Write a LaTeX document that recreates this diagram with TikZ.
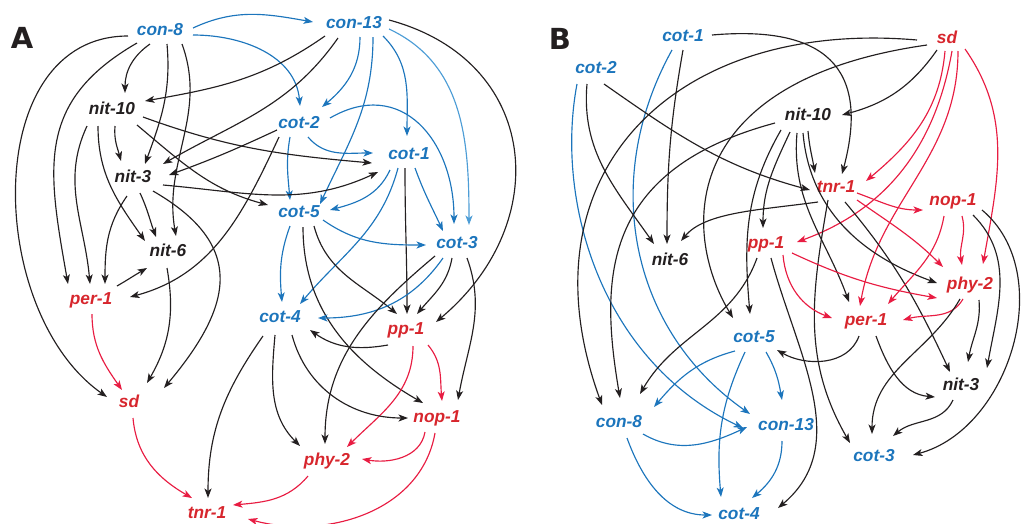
\documentclass[tikz,border=0pt]{standalone}
\usepackage{fontspec}
\setmainfont{Liberation Sans}
\newfontfamily\heavyfont{DejaVu Sans}
\usetikzlibrary{arrows.meta,calc}
\definecolor{nblue}{RGB}{28,117,188}
\definecolor{lblue}{RGB}{77,157,214}
\definecolor{nred}{RGB}{215,38,45}
\definecolor{ered}{RGB}{232,28,66}
\definecolor{nblack}{RGB}{35,31,32}
\begin{document}
\begin{tikzpicture}[x=1pt,y=1pt,
  lab/.style={font=\fontsize{17.3}{20}\selectfont\bfseries\itshape, inner sep=2pt, text height=12.5pt, text depth=3.5pt},
  nb/.style={lab,text=nblue}, nr/.style={lab,text=nred}, nk/.style={lab,text=nblack},
  e/.style={-{Stealth[length=9.5pt,width=7pt,inset=2.5pt]}, line width=1.15pt},
  ek/.style={e,draw=nblack}, eb/.style={e,draw=nblue}, er/.style={e,draw=ered}, elb/.style={e,draw=lblue},
  panel/.style={font=\heavyfont\fontsize{29}{30}\selectfont\bfseries, text=nblack, inner sep=0pt}]
\useasboundingbox (0,0) rectangle (1027,-523);
\node[panel] (labA) at (22,-38) {A};
\node[panel] (labB) at (560,-39) {B};
% ---------- panel A nodes
\node[nb] (a-c8) at (160,-31) {con-8};
\node[nb] (a-c13) at (354,-24) {con-13};
\node[nk] (a-n10) at (112,-110) {nit-10};
\node[nb] (a-t2) at (299,-124) {cot-2};
\node[nb] (a-t1) at (409,-155) {cot-1};
\node[nk] (a-n3) at (133,-178) {nit-3};
\node[nb] (a-t5) at (299,-213) {cot-5};
\node[nb] (a-t3) at (457,-244) {cot-3};
\node[nk] (a-n6) at (168,-252) {nit-6};
\node[nr] (a-p1) at (91,-300) {per-1};
\node[nb] (a-t4) at (280,-318) {cot-4};
\node[nr] (a-pp) at (406,-330) {pp-1};
\node[nr] (a-sd) at (129,-403) {sd};
\node[nr] (a-nop) at (437,-418) {nop-1};
\node[nr] (a-phy) at (327,-461) {phy-2};
\node[nr] (a-tnr) at (207,-514) {tnr-1};
% ---------- panel A edges
\draw[eb] ($(a-c8)+(33,3)$) to[out=25,in=170] ($(a-c13)+(-41,2)$);
\draw[eb] ($(a-c8)+(33,-4)$) to[out=0,in=95] ($(a-t2)+(1,18)$);
\draw[eb] ($(a-c13)+(6,-13)$) to[out=-90,in=40] ($(a-t2)+(23,17)$);
\draw[eb] ($(a-c13)+(19,-13)$) to[out=-90,in=65] ($(a-t5)+(21,9)$);
\draw[eb] ($(a-c13)+(29,-12)$) to[out=-45,in=90] ($(a-t1)+(-2,19)$);
\draw[elb] ($(a-c13)+(35,-5)$) to[out=-25,in=90] ($(a-t3)+(12,19)$);
\draw[ek] ($(a-c13)+(35,4)$) to[out=-15,in=40,looseness=1.3] ($(a-pp)+(30,8)$);
\draw[eb] ($(a-t2)+(9,-13)$) to[out=-50,in=180] ($(a-t1)+(-36,2)$);
\draw[eb] ($(a-t2)+(31,6)$) to[out=30,in=90,looseness=1.3] ($(a-t3)+(-3,20)$);
\draw[eb] ($(a-t2)+(-9,-13)$) to[out=-100,in=95] ($(a-t5)+(-9,13)$);
\draw[eb] ($(a-t1)+(-19,-15)$) to[out=-115,in=15] ($(a-t5)+(31,3)$);
\draw[eb] ($(a-t1)+(6,-13)$) to[out=-70,in=115] ($(a-t3)+(-14,13)$);
\draw[eb] ($(a-t1)+(-11,-13)$) to[out=-105,in=50] ($(a-t4)+(20,14)$);
\draw[ek] ($(a-t1)+(-4,-13)$) to[out=-90,in=90] ($(a-pp)+(1,16)$);
\draw[eb] ($(a-t5)+(24,-7)$) to[out=-35,in=180] ($(a-t3)+(-31,-1)$);
\draw[eb] ($(a-t5)+(-9,-13)$) to[out=-110,in=95] ($(a-t4)+(2,16)$);
\draw[ek] ($(a-t5)+(15,-13)$) to[out=-75,in=140] ($(a-pp)+(-9,16)$);
\draw[ek] ($(a-t5)+(4,-14)$) to[out=-90,in=150] ($(a-nop)+(-14,15)$);
\draw[eb] ($(a-t3)+(-14,-14)$) to[out=-125,in=0] ($(a-t4)+(38,0)$);
\draw[ek] ($(a-t3)+(-5,-14)$) to[out=-100,in=50] ($(a-pp)+(11,16)$);
\draw[ek] ($(a-t3)+(10,-14)$) to[out=-70,in=80] ($(a-nop)+(21,18)$);
\draw[ek] ($(a-t3)+(-22,-12)$) to[out=-140,in=90] ($(a-phy)+(-2,17)$);
\draw[ek] ($(a-pp)+(-18,-15)$) to[out=-170,in=-35] ($(a-t4)+(30,-12)$);
\draw[er] ($(a-pp)+(22,-15)$) to[out=-50,in=95] ($(a-nop)+(5,17)$);
\draw[er] ($(a-pp)+(7,-16)$) to[out=-90,in=45] ($(a-phy)+(20,14)$);
\draw[ek] ($(a-t4)+(-5,-17)$) to[out=-95,in=135] ($(a-phy)+(-27,15)$);
\draw[ek] ($(a-t4)+(12,-17)$) to[out=-75,in=180] ($(a-nop)+(-29,0)$);
\draw[ek] ($(a-t4)+(-17,-18)$) to[out=-125,in=90] ($(a-tnr)+(1,16)$);
\draw[er] ($(a-nop)+(-12,-14)$) to[out=-100,in=-10] ($(a-phy)+(35,2)$);
\draw[er] ($(a-nop)+(-2,-15)$) to[out=-100,in=-15] ($(a-tnr)+(41,-5)$);
\draw[er] ($(a-phy)+(-19,-15)$) to[out=-130,in=5] ($(a-tnr)+(26,9)$);
\draw[er] ($(a-sd)+(4,-15)$) to[out=-85,in=150] ($(a-tnr)+(-15,16)$);
\draw[er] ($(a-p1)+(1,-14)$) to[out=-90,in=125] ($(a-sd)+(-7,13)$);
\draw[ek] ($(a-n6)+(-1,-16)$) to[out=-80,in=60] ($(a-sd)+(18,20)$);
\draw[ek] ($(a-n3)+(20,-13)$) to[out=-30,in=50,looseness=1.4] ($(a-sd)+(35,15)$);
\draw[ek] ($(a-c8)+(-32,-5)$) to[out=180,in=145,looseness=1.05] ($(a-sd)+(-22,6)$);
\draw[ek] ($(a-c8)+(-23,-12)$) to[out=-150,in=100,looseness=1.2] ($(a-p1)+(-23,16)$);
\draw[ek] ($(a-c8)+(-10,-13)$) to[out=-145,in=90] ($(a-n10)+(13,17)$);
\draw[ek] ($(a-c8)+(7,-13)$) to[out=-85,in=70] ($(a-n3)+(12,14)$);
\draw[ek] ($(a-c8)+(22,-13)$) to[out=-70,in=100] ($(a-n6)+(8,16)$);
\draw[ek] ($(a-c13)+(-29,-12)$) to[out=-145,in=10] ($(a-n10)+(33,9)$);
\draw[ek] ($(a-c13)+(-16,-14)$) to[out=-125,in=30] ($(a-n3)+(30,14)$);
\draw[ek] ($(a-t2)+(-22,-6)$) to[out=-155,in=20] ($(a-n3)+(36,3)$);
\draw[ek] ($(a-t2)+(-20,-13)$) to[out=-115,in=15] ($(a-p1)+(39,3)$);
\draw[ek] ($(a-n10)+(3,-16)$) to[out=-95,in=105] ($(a-n3)+(-12,17)$);
\draw[ek] ($(a-n10)+(-14,-16)$) to[out=-90,in=125] ($(a-n6)+(-23,11)$);
\draw[ek] ($(a-n10)+(-25,-16)$) to[out=-115,in=95] ($(a-p1)+(-1,16)$);
\draw[ek] ($(a-n10)+(31,-7)$) to[out=-20,in=175] ($(a-t1)+(-37,-8)$);
\draw[ek] ($(a-n10)+(25,-15)$) to[out=-40,in=165] ($(a-t5)+(-31,8)$);
\draw[ek] ($(a-n3)+(30,-7)$) to[out=-5,in=-155] ($(a-t1)+(-31,-17)$);
\draw[ek] ($(a-n3)+(7,-15)$) to[out=-65,in=110] ($(a-n6)+(-12,15)$);
\draw[ek] ($(a-n3)+(-6,-18)$) to[out=-125,in=90] ($(a-p1)+(14,16)$);
\draw[ek] ($(a-p1)+(26,14)$) to[out=30,in=-150] ($(a-n6)+(-21,-16)$);
% ---------- panel B nodes
\node[nb] (b-t1) at (683,-37) {cot-1};
\node[nb] (b-t2) at (596,-69) {cot-2};
\node[nr] (b-sd) at (947,-39) {sd};
\node[nk] (b-n10) at (808,-116) {nit-10};
\node[nr] (b-tnr) at (836,-188) {tnr-1};
\node[nr] (b-nop) at (953,-201) {nop-1};
\node[nr] (b-pp) at (766,-244) {pp-1};
\node[nk] (b-n6) at (670,-261) {nit-6};
\node[nr] (b-phy) at (970,-285) {phy-2};
\node[nr] (b-p1) at (866,-321) {per-1};
\node[nb] (b-t5) at (754,-338) {cot-5};
\node[nk] (b-n3) at (961,-386) {nit-3};
\node[nb] (b-c8) at (619,-423) {con-8};
\node[nb] (b-c13) at (786,-426) {con-13};
\node[nb] (b-t3) at (874,-457) {cot-3};
\node[nb] (b-t4) at (739,-515) {cot-4};
% ---------- panel B edges
\draw[ek] ($(b-t1)+(29,2)$) to[out=5,in=75,looseness=1.5] ($(b-tnr)+(6,14)$);
\draw[ek] ($(b-t1)+(0,-13)$) to[out=-100,in=90] ($(b-n6)+(-3,17)$);
\draw[eb] ($(b-t1)+(-11,-13)$) .. controls (600,-180) and (630,-330) .. ($(b-c13)+(-36,12)$);
\draw[ek] ($(b-t2)+(8,-15)$) to[out=-35,in=165] ($(b-tnr)+(-26,-2)$);
\draw[ek] ($(b-t2)+(-9,-15)$) to[out=-95,in=125] ($(b-n6)+(-16,17)$);
\draw[eb] ($(b-t2)+(-19,-15)$) .. controls (555,-200) and (600,-360) .. ($(b-c13)+(-43,-2)$);
\draw[ek] ($(b-sd)+(-10,-11)$) to[out=-125,in=15] ($(b-n10)+(34,1)$);
\draw[ek] ($(b-sd)+(-30,-1)$) to[out=175,in=110,looseness=1.3] ($(b-c8)+(-17,18)$);
\draw[ek] ($(b-sd)+(-20,-6)$) .. controls (680,-80) and (680,-230) .. ($(b-t5)+(-21,20)$);
\draw[er] ($(b-sd)+(-2,-12)$) to[out=-95,in=40] ($(b-tnr)+(30,7)$);
\draw[er] ($(b-sd)+(5,-12)$) to[out=-100,in=20] ($(b-pp)+(31,2)$);
\draw[er] ($(b-sd)+(11,-12)$) to[out=-90,in=80] ($(b-p1)+(-6,15)$);
\draw[er] ($(b-sd)+(18,-10)$) to[out=-55,in=80] ($(b-phy)+(13,21)$);
\draw[ek] ($(b-n10)+(-33,-7)$) .. controls (600,-170) and (600,-280) .. ($(b-c8)+(1,25)$);
\draw[ek] ($(b-n10)+(-27,-14)$) to[out=-120,in=95] ($(b-t5)+(-4,24)$);
\draw[ek] ($(b-n10)+(-18,-16)$) to[out=-115,in=90] ($(b-pp)+(-3,16)$);
\draw[ek] ($(b-n10)+(-11,-17)$) to[out=-95,in=110] ($(b-p1)+(-17,19)$);
\draw[ek] ($(b-n10)+(-5,-17)$) to[out=-85,in=160] ($(b-phy)+(-33,2)$);
\draw[ek] ($(b-n10)+(0,-15)$) to[out=-85,in=100] ($(b-tnr)+(-21,15)$);
\draw[ek] ($(b-tnr)+(-18,-14)$) .. controls (760,-210) and (705,-212) .. ($(b-n6)+(11,20)$);
\draw[er] ($(b-tnr)+(21,-5)$) to[out=-20,in=180] ($(b-nop)+(-30,-9)$);
\draw[er] ($(b-tnr)+(21,-12)$) to[out=-35,in=135] ($(b-phy)+(-27,18)$);
\draw[ek] ($(b-tnr)+(9,-14)$) to[out=-50,in=115] ($(b-n3)+(-11,14)$);
\draw[ek] ($(b-tnr)+(-8,-12)$) to[out=-100,in=120] ($(b-t3)+(-24,14)$);
\draw[er] ($(b-nop)+(-9,-15)$) to[out=-100,in=50] ($(b-p1)+(22,17)$);
\draw[er] ($(b-nop)+(9,-15)$) to[out=-75,in=100] ($(b-phy)+(-8,20)$);
\draw[ek] ($(b-nop)+(20,-14)$) to[out=-45,in=80] ($(b-n3)+(26,18)$);
\draw[ek] ($(b-nop)+(29,-9)$) to[out=-40,in=15] ($(b-t3)+(39,2)$);
\draw[ek] ($(b-pp)+(-9,-14)$) to[out=-110,in=60] ($(b-c8)+(21,29)$);
\draw[er] ($(b-pp)+(17,-11)$) to[out=-85,in=160] ($(b-p1)+(-34,3)$);
\draw[er] ($(b-pp)+(26,-9)$) to[out=-25,in=170] ($(b-phy)+(-33,-13)$);
\draw[ek] ($(b-pp)+(5,-14)$) to[out=-75,in=40] ($(b-t4)+(39,7)$);
\draw[er] ($(b-phy)+(-7,-14)$) to[out=-120,in=15] ($(b-p1)+(37,1)$);
\draw[ek] ($(b-phy)+(9,-15)$) to[out=-85,in=80] ($(b-n3)+(7,24)$);
\draw[ek] ($(b-phy)+(-10,-14)$) to[out=-120,in=90] ($(b-t3)+(-2,23)$);
\draw[ek] ($(b-p1)+(-7,-15)$) to[out=-110,in=-30] ($(b-t5)+(23,-12)$);
\draw[ek] ($(b-p1)+(10,-15)$) to[out=-70,in=175] ($(b-n3)+(-26,-11)$);
\draw[ek] ($(b-n3)+(-8,-14)$) to[out=-115,in=40] ($(b-t3)+(19,21)$);
\draw[eb] ($(b-t5)+(-19,-13)$) to[out=-165,in=50] ($(b-c8)+(35,16)$);
\draw[eb] ($(b-t5)+(12,-14)$) to[out=-60,in=100] ($(b-c13)+(-4,26)$);
\draw[eb] ($(b-t5)+(-9,-14)$) to[out=-115,in=95] ($(b-t4)+(-18,18)$);
\draw[eb] ($(b-c8)+(24,-11)$) to[out=-30,in=-155] ($(b-c13)+(-39,-1)$);
\draw[eb] ($(b-c8)+(8,-15)$) to[out=-70,in=180] ($(b-t4)+(-27,0)$);
\draw[eb] ($(b-c13)+(-4,-15)$) to[out=-90,in=40] ($(b-t4)+(13,17)$);
\end{tikzpicture}
\end{document}
